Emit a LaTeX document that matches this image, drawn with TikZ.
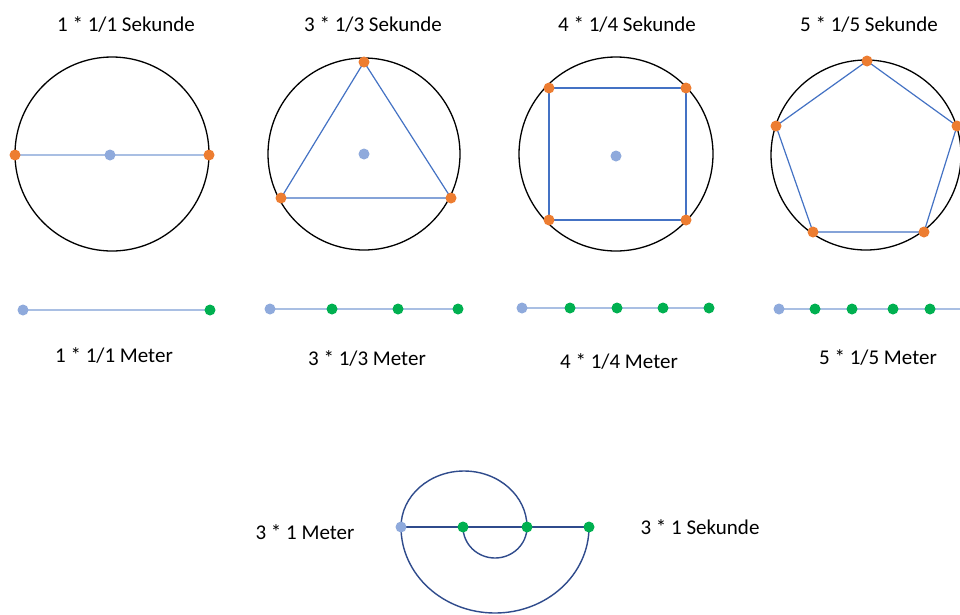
\documentclass[tikz,border=0pt]{standalone}
\usepackage{fontspec}
\setmainfont{Carlito}
\definecolor{dotblue}{HTML}{8FAADC}
\definecolor{dotorange}{HTML}{ED7D31}
\definecolor{dotgreen}{HTML}{00B050}
\definecolor{polyblue}{HTML}{4472C4}
\definecolor{lineblue}{HTML}{A9BFE3}
\definecolor{navy}{HTML}{2F4B8C}
\begin{document}
\begin{tikzpicture}[x=1pt,y=-1pt,
  dot/.style={circle,inner sep=0pt,minimum size=11pt},
  bdot/.style={dot,fill=dotblue},
  odot/.style={dot,fill=dotorange},
  gdot/.style={dot,fill=dotgreen},
  circ/.style={draw=black,line width=1.3pt},
  poly/.style={draw=polyblue,line width=1.2pt},
  thin/.style={draw=lineblue,line width=1.2pt},
  spiral/.style={draw=navy,line width=1.4pt},
  lbl/.style={font=\fontsize{21}{25}\selectfont,inner sep=0pt}]
\useasboundingbox[fill=white] (0,0) rectangle (960,614);
% circles
\draw[circ] (112,154) circle (97pt);
\draw[circ] (364,154) circle (96pt);
\draw[circ] (616,154) circle (97pt);
\draw[circ] (866,155) circle (95pt);
% coordinates
\coordinate (c1a) at (15,155); \coordinate (c1b) at (209,155); \coordinate (c1m) at (110,155);
\coordinate (t1) at (364,62); \coordinate (t2) at (281,198); \coordinate (t3) at (451,198); \coordinate (c2m) at (364,154);
\coordinate (q1) at (549,88); \coordinate (q2) at (686,88); \coordinate (q3) at (686,220); \coordinate (q4) at (549,220); \coordinate (c3m) at (616,156);
\coordinate (p1) at (867,61); \coordinate (p2) at (957,126); \coordinate (p3) at (924,232); \coordinate (p4) at (813,232); \coordinate (p5) at (776,126);
% polygons
\draw[thin] (c1a) -- (c1b);
\draw[poly] (t1) -- (t2) -- (t3) -- cycle;
\draw[poly] (q1) -- (q2) -- (q3) -- (q4) -- cycle;
\draw[poly] (p1) -- (p2) -- (p3) -- (p4) -- (p5) -- cycle;
% number lines
\coordinate (l1a) at (23,310); \coordinate (l1b) at (210,310);
\coordinate (l2a) at (270,309); \coordinate (l2b) at (332,309); \coordinate (l2c) at (398,309); \coordinate (l2d) at (458,309);
\coordinate (l3a) at (522,308); \coordinate (l3b) at (570,308); \coordinate (l3c) at (617,308); \coordinate (l3d) at (663,308); \coordinate (l3e) at (709,308);
\coordinate (l4a) at (779,309); \coordinate (l4b) at (815,309); \coordinate (l4c) at (852,309); \coordinate (l4d) at (893,309); \coordinate (l4e) at (930,309); \coordinate (l4end) at (962,309);
\draw[thin] (l1a) -- (l1b);
\draw[thin] (l2a) -- (l2d);
\draw[thin] (l3a) -- (l3e);
\draw[thin] (l4a) -- (l4end);
% spiral
\coordinate (s0) at (401,527); \coordinate (s1) at (463,527); \coordinate (s2) at (527,527); \coordinate (s3) at (589,527);
\draw[spiral] (s0) -- (s3);
\draw[spiral] (s0) arc[start angle=180,end angle=0,x radius=63pt,y radius=56pt];
\draw[spiral] (s1) arc[start angle=180,end angle=360,x radius=32pt,y radius=31pt];
\draw[spiral] (s0) arc[start angle=180,end angle=360,x radius=94pt,y radius=86pt];
% dots
\node[odot] (d1a) at (c1a) {}; \node[odot] (d1b) at (c1b) {}; \node[bdot] (d1m) at (c1m) {};
\node[odot] (dt1) at (t1) {}; \node[odot] (dt2) at (t2) {}; \node[odot] (dt3) at (t3) {}; \node[bdot] (d2m) at (c2m) {};
\node[odot] (dq1) at (q1) {}; \node[odot] (dq2) at (q2) {}; \node[odot] (dq3) at (q3) {}; \node[odot] (dq4) at (q4) {}; \node[bdot] (d3m) at (c3m) {};
\node[odot] (dp1) at (p1) {}; \node[odot] (dp2) at (p2) {}; \node[odot] (dp3) at (p3) {}; \node[odot] (dp4) at (p4) {}; \node[odot] (dp5) at (p5) {};
\node[bdot] (n1a) at (l1a) {}; \node[gdot] (n1b) at (l1b) {};
\node[bdot] (n2a) at (l2a) {}; \node[gdot] (n2b) at (l2b) {}; \node[gdot] (n2c) at (l2c) {}; \node[gdot] (n2d) at (l2d) {};
\node[bdot] (n3a) at (l3a) {}; \node[gdot] (n3b) at (l3b) {}; \node[gdot] (n3c) at (l3c) {}; \node[gdot] (n3d) at (l3d) {}; \node[gdot] (n3e) at (l3e) {};
\node[bdot] (n4a) at (l4a) {}; \node[gdot] (n4b) at (l4b) {}; \node[gdot] (n4c) at (l4c) {}; \node[gdot] (n4d) at (l4d) {}; \node[gdot] (n4e) at (l4e) {};
\node[bdot] (ns0) at (s0) {}; \node[gdot] (ns1) at (s1) {}; \node[gdot] (ns2) at (s2) {}; \node[gdot] (ns3) at (s3) {};
% labels
\node[lbl] (ls1) at (126,24) {1 * 1/1 Sekunde};
\node[lbl] (ls2) at (373,24) {3 * 1/3 Sekunde};
\node[lbl] (ls3) at (627,24) {4 * 1/4 Sekunde};
\node[lbl] (ls4) at (869,24) {5 * 1/5 Sekunde};
\node[lbl] (lm1) at (114,355) {1 * 1/1 Meter};
\node[lbl] (lm2) at (367,358) {3 * 1/3 Meter};
\node[lbl] (lm3) at (619,361) {4 * 1/4 Meter};
\node[lbl] (lm4) at (878,357) {5 * 1/5 Meter};
\node[lbl] (lb1) at (305,532) {3 * 1 Meter};
\node[lbl] (lb2) at (700,527) {3 * 1 Sekunde};
\end{tikzpicture}
\end{document}
